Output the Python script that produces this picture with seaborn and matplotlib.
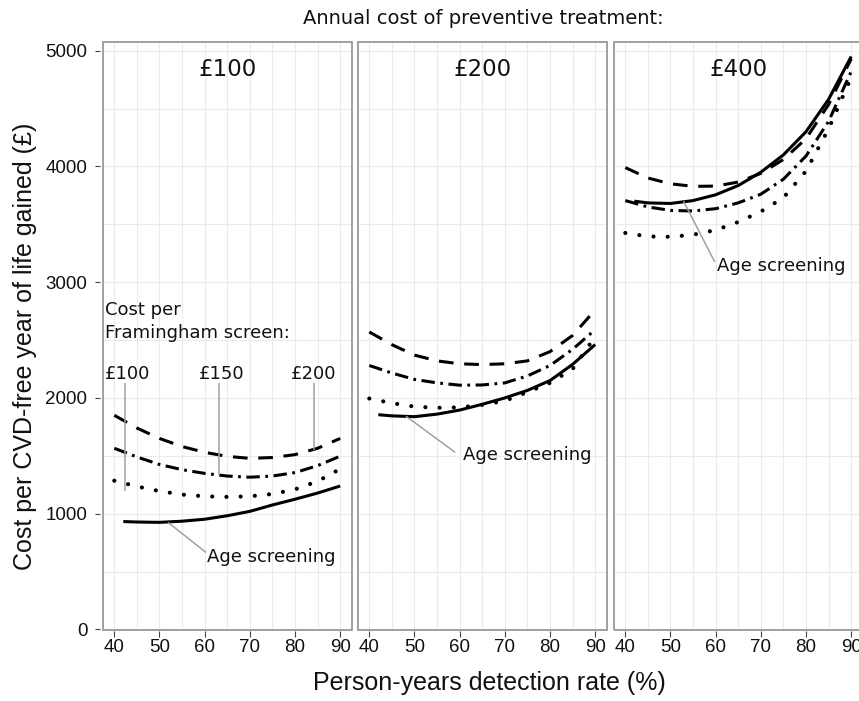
import numpy as np
import pandas as pd
import matplotlib
matplotlib.use('Agg')
import matplotlib.pyplot as plt
import seaborn as sns
from matplotlib.patches import Rectangle

rate = [40, 45, 50, 55, 60, 65, 70, 75, 80, 85, 90]
rate_age = [42, 45, 50, 55, 60, 65, 70, 75, 80, 85, 90]

panel_titles = ['£100', '£200', '£400']
series_names = ['Age screening', '£100', '£150', '£200']

# annual treatment cost £100
age_100 = [932, 928, 925, 935, 952, 982, 1020, 1075, 1125, 1178, 1239]
fram100_100 = [1285, 1235, 1195, 1165, 1150, 1145, 1150, 1170, 1210, 1280, 1386]
fram150_100 = [1565, 1490, 1425, 1380, 1348, 1325, 1315, 1325, 1355, 1415, 1497]
fram200_100 = [1850, 1740, 1650, 1580, 1530, 1495, 1478, 1485, 1510, 1565, 1650]

# annual treatment cost £200
age_200 = [1855, 1845, 1838, 1860, 1895, 1945, 2000, 2065, 2150, 2290, 2461]
fram100_200 = [1995, 1955, 1925, 1915, 1918, 1940, 1975, 2050, 2130, 2250, 2530]
fram150_200 = [2280, 2215, 2160, 2130, 2110, 2112, 2130, 2190, 2280, 2420, 2590]
fram200_200 = [2570, 2460, 2370, 2320, 2295, 2288, 2295, 2320, 2400, 2540, 2760]

# annual treatment cost £400
age_400 = [3700, 3685, 3680, 3705, 3755, 3835, 3950, 4100, 4300, 4580, 4950]
fram100_400 = [3425, 3395, 3392, 3410, 3450, 3520, 3610, 3730, 3960, 4325, 4770]
fram150_400 = [3705, 3650, 3620, 3615, 3635, 3685, 3760, 3890, 4090, 4390, 4820]
fram200_400 = [3990, 3900, 3850, 3828, 3830, 3865, 3940, 4060, 4240, 4535, 4930]

y_ticks = [0, 1000, 2000, 3000, 4000, 5000]
x_ticks = [40, 50, 60, 70, 80, 90]

panels = {
    '£100': [age_100, fram100_100, fram150_100, fram200_100],
    '£200': [age_200, fram100_200, fram150_200, fram200_200],
    '£400': [age_400, fram100_400, fram150_400, fram200_400],
}

rows = []
for p in panel_titles:
    for name, vals in zip(series_names, panels[p]):
        xs = rate_age if name == 'Age screening' else rate
        for x, y in zip(xs, vals):
            rows.append((p, name, x, y))
df = pd.DataFrame(rows, columns=['treatment', 'series', 'rate', 'cost'])

sns.set_theme(style='white')
plt.rcParams['font.family'] = ['Liberation Sans', 'DejaVu Sans']

W, H = 859, 701
fig = plt.figure(figsize=(W / 100, H / 100), dpi=100)

# linestyle, cap, width
line_styles = {
    'Age screening': ('-', 'butt', 2.2),
    '£100': ((0, (0.01, 3.4)), 'round', 3.0),
    '£150': ((0, (4.4, 1.8, 0.9, 1.8)), 'butt', 2.2),
    '£200': ((0, (4.8, 3.5)), 'butt', 2.2),
}

lefts = [103, 358, 614]
ax_w, top_px, bot_px = 248.5, 42, 630
grey = '#999999'
axes = []
for i, p in enumerate(panel_titles):
    ax = fig.add_axes([lefts[i] / W, (H - bot_px) / H, ax_w / W, (bot_px - top_px) / H])
    axes.append(ax)
    sub = df[df['treatment'] == p]
    for name in series_names:
        ls, cap, lw = line_styles[name]
        s = sub[sub['series'] == name]
        sns.lineplot(data=s, x='rate', y='cost', ax=ax, color='black', lw=lw,
                     linestyle=ls, estimator=None, sort=False)
        ax.lines[-1].set_dash_capstyle(cap)
        ax.lines[-1].set_solid_capstyle('butt')

    ax.set_xlim(37.5, 92.5)
    ax.set_ylim(-5, 5075)
    ax.set_xticks(x_ticks)
    ax.set_xticks(range(45, 91, 10), minor=True)
    ax.set_yticks(y_ticks)
    ax.set_yticks(range(500, 5000, 1000), minor=True)
    ax.grid(True, which='both', color='#ebebeb', lw=0.8)
    ax.set_axisbelow(True)
    ax.set_xlabel('')
    ax.set_ylabel('')
    for sp in ax.spines.values():
        sp.set_visible(False)
    ax.spines['left'].set_position(('outward', 2.2))
    ax.spines['bottom'].set_position(('outward', 0.8))
    ax.add_patch(Rectangle((0, 0), 1, 1, transform=ax.transAxes, fill=False,
                           edgecolor=grey, lw=1.3, zorder=5, clip_on=False))
    ax.tick_params(axis='x', which='major', bottom=True, length=4.4, width=0.8,
                   color='#444444', pad=1, labelsize=13.5, labelcolor='#111111')
    ax.tick_params(which='minor', length=0)
    if i == 0:
        ax.tick_params(axis='y', which='major', left=True, length=3.6, width=0.8,
                       color='#444444', pad=5.4, labelsize=13.5, labelcolor='#111111')
    else:
        ax.tick_params(axis='y', left=False, labelleft=False)
    ax.text(0.5, 0.954, p, transform=ax.transAxes, ha='center', va='center',
            fontsize=16.5, family='DejaVu Sans', color='#111111')

txt = dict(family='DejaVu Sans', fontsize=13, color='#111111')
lead = dict(color='#a0a0a0', lw=1.1, solid_capstyle='butt')

# panel 1 annotations
a1 = axes[0]
a1.text(38.0, 2763, 'Cost per', ha='left', va='center', **txt)
a1.text(38.0, 2565, 'Framingham screen:', ha='left', va='center', **txt)
for lab, lx in [('£100', 43.0), ('£150', 63.7), ('£200', 84.2)]:
    a1.text(lx, 2211, lab, ha='center', va='center', **txt)
for lx, ly_end in [(42.4, 1200), (63.2, 1330), (84.1, 1554)]:
    a1.plot([lx, lx], [2133, ly_end], **lead)
a1.plot([51.9, 60.3], [924, 665], **lead)
a1.text(60.6, 622, 'Age screening', ha='left', va='center', **txt)

a2 = axes[1]
a2.plot([48.1, 59.0], [1842, 1530], **lead)
a2.text(60.7, 1503, 'Age screening', ha='left', va='center', **txt)

a3 = axes[2]
a3.plot([52.9, 59.8], [3699, 3175], **lead)
a3.text(60.3, 3137, 'Age screening', ha='left', va='center', **txt)

fig.text(483 / W, 1 - 18 / H, 'Annual cost of preventive treatment:', ha='center',
         va='center', fontsize=14, family='DejaVu Sans', color='#111111')
fig.text(489 / W, 1 - 683 / H, 'Person-years detection rate (%)', ha='center',
         va='center', fontsize=18, color='#111111')
fig.text(25 / W, 1 - 346 / H, 'Cost per CVD-free year of life gained (£)', ha='center',
         va='center', rotation=90, fontsize=18, color='#111111')

fig.savefig('out.png', dpi=100)
